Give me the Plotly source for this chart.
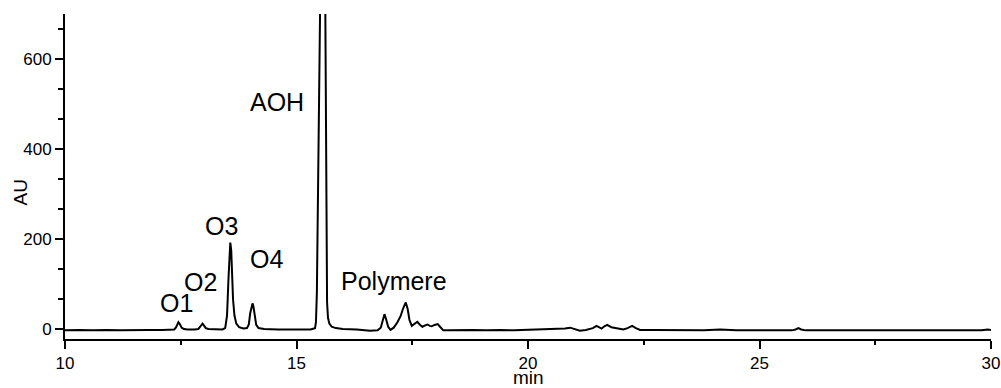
import plotly.graph_objects as go

# Chromatogram trace (retention time in min, signal in AU)
time_min = [
    10.0, 10.3, 10.6, 10.9, 11.2, 11.5, 11.8, 12.1, 12.3,
    12.36, 12.40, 12.43, 12.45, 12.48, 12.52, 12.57, 12.65,
    12.80, 12.88, 12.92, 12.95, 12.97, 13.00, 13.04, 13.10, 13.25, 13.40, 13.46,
    13.50, 13.53, 13.55, 13.57, 13.59, 13.61, 13.63, 13.66, 13.70, 13.76, 13.85, 13.93,
    13.97, 14.00, 14.03, 14.05, 14.07, 14.10, 14.13, 14.18, 14.3, 14.6, 15.0, 15.3,
    15.40, 15.42, 15.44, 15.45, 15.48, 15.52, 15.55, 15.575, 15.60, 15.625, 15.635,
    15.645, 15.66, 15.68, 15.71, 15.76, 15.85, 16.0, 16.3, 16.59,
    16.75, 16.82, 16.86, 16.90, 16.94, 16.98, 17.03, 17.10, 17.18, 17.25, 17.30,
    17.36, 17.40, 17.44, 17.49, 17.55, 17.61, 17.67, 17.72, 17.78, 17.83, 17.88,
    17.92, 17.98, 18.05, 18.10, 18.17, 18.3, 18.5, 18.8, 19.1, 19.4, 19.7, 20.0,
    20.3, 20.6, 20.8, 20.91, 21.0, 21.12, 21.25, 21.40, 21.48, 21.55, 21.59, 21.65,
    21.71, 21.8, 21.95, 22.06, 22.15, 22.25, 22.33, 22.42, 22.7, 23.0, 23.4, 23.8,
    24.15, 24.5, 25.0, 25.5, 25.7, 25.78, 25.84, 25.9, 26.0, 26.5, 27.0, 27.5,
    28.0, 28.07, 28.15, 28.6, 29.0, 29.4, 29.8, 29.93, 30.0,
]
signal_au = [
    -3, -2, -3, -2, -3, -2, -2, -2, -1,
    -1, 4, 12, 15, 11, 3, 0, -1,
    -1, 0, 5, 11, 12, 8, 2, 0, -1, -1, 2,
    30, 110, 170, 192, 175, 120, 65, 30, 12, 4, 1, 2,
    10, 35, 54, 57, 50, 25, 9, 2, 0, -1, -1, -1,
    2, 15, 80, 175, 350, 700, 1100, 1300, 1100, 700, 300,
    150, 60, 25, 12, 5, 2, 0, -1, -4,
    -3, 3, 20, 33, 20, 5, -2, 3, 15, 29, 45,
    59, 45, 20, 7, 12, 16, 9, 5, 8, 10, 7,
    6, 9, 11, 5, -3, -3, -2, -2, -3, -2, -3, -2,
    -2, -1, 1, 3, 0, -4, -2, 2, 7, 3, 1, 6,
    9, 4, 1, -1, 2, 7, 2, -2, -2, -2, -3, -3,
    -1, -3, -3, -3, -3, -1, 2, -1, -3, -3, -3, -3,
    -3, -2, -3, -3, -3, -3, -3, -1, -2,
]

# Peak labels and their positions (data coordinates)
label_text = ["O1", "O2", "O3", "O4", "AOH", "Polymere"]
label_x = [12.40, 12.92, 13.39, 14.36, 14.58, 17.11]
label_y = [57, 104, 228, 155, 505, 107]

x_ticks = [10, 15, 20, 25, 30]
y_ticks = [0, 200, 400, 600]

FONT = "Liberation Sans, Arial"

fig = go.Figure()
fig.add_trace(go.Scatter(
    x=time_min, y=signal_au, mode="lines",
    line=dict(color="black", width=2), hoverinfo="skip", showlegend=False,
))

for t, x, y in zip(label_text, label_x, label_y):
    fig.add_annotation(x=x, y=y, text=t, showarrow=False,
                       font=dict(size=25, color="black", family=FONT),
                       xanchor="center", yanchor="middle")

# axis titles placed as in the reference (tight against the tick labels)
fig.add_annotation(xref="paper", yref="paper", x=-0.0486, y=0.451, text="AU",
                   textangle=-90, showarrow=False, xanchor="center", yanchor="middle",
                   font=dict(size=19, color="black", family=FONT))
fig.add_annotation(xref="paper", yref="paper", x=0.5, y=-0.117, text="min",
                   showarrow=False, xanchor="center", yanchor="middle",
                   font=dict(size=19, color="black", family=FONT))

fig.update_layout(
    width=1001, height=388,
    margin=dict(l=65, r=10, t=14, b=49, autoexpand=False),
    paper_bgcolor="white", plot_bgcolor="white",
    font=dict(family=FONT, color="black", size=17),
)
fig.update_xaxes(
    range=[10, 30], tickvals=x_ticks, ticktext=[str(v) for v in x_ticks],
    showline=True, linecolor="black", linewidth=2, mirror=False,
    ticks="outside", ticklen=8, tickwidth=2, tickcolor="black",
    minor=dict(dtick=2.5, tick0=0, ticks="outside", ticklen=4, tickwidth=2, tickcolor="black"),
    showgrid=False, zeroline=False, automargin=False,
    tickfont=dict(size=17),
)
fig.update_yaxes(
    range=[-22.2, 700], tickvals=y_ticks, ticktext=[str(v) for v in y_ticks],
    showline=True, linecolor="black", linewidth=2, mirror=False,
    ticks="outside", ticklen=8, tickwidth=2, tickcolor="black",
    minor=dict(dtick=200 / 3, tick0=0, ticks="outside", ticklen=5, tickwidth=2, tickcolor="black"),
    showgrid=False, zeroline=False, automargin=False,
    tickfont=dict(size=17),
)

fig.write_html("out.html")
